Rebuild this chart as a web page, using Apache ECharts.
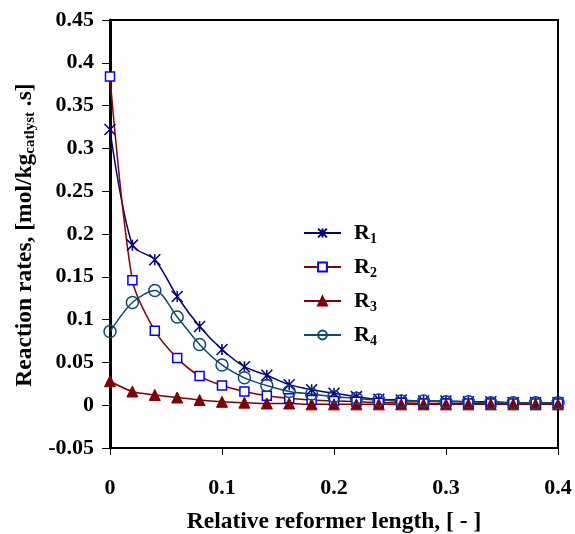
<!DOCTYPE html>
<html>
<head>
<meta charset="utf-8">
<script src="https://cdn.jsdelivr.net/npm/echarts@6/dist/echarts.min.js"></script>
<style>html,body{margin:0;padding:0;background:#fff}#c{width:575px;height:534px}</style>
</head>
<body>
<div id="c"></div>
<script>
var xValues = [0, 0.02, 0.04, 0.06, 0.08, 0.10, 0.12, 0.14, 0.16, 0.18, 0.20, 0.22, 0.24, 0.26, 0.28, 0.30, 0.32, 0.34, 0.36, 0.38, 0.40];
var r1 = [0.322, 0.187, 0.170, 0.127, 0.092, 0.065, 0.045, 0.035, 0.024, 0.018, 0.014, 0.010, 0.007, 0.006, 0.005, 0.005, 0.004, 0.004, 0.003, 0.003, 0.003];
var r2 = [0.384, 0.146, 0.087, 0.055, 0.034, 0.023, 0.016, 0.011, 0.008, 0.006, 0.005, 0.004, 0.003, 0.003, 0.002, 0.002, 0.002, 0.002, 0.002, 0.002, 0.002];
var r3 = [0.028, 0.016, 0.012, 0.009, 0.006, 0.004, 0.003, 0.002, 0.002, 0.001, 0.001, 0.001, 0.001, 0.001, 0.001, 0.001, 0.001, 0.001, 0.001, 0.001, 0.001];
var r4 = [0.086, 0.120, 0.134, 0.103, 0.071, 0.047, 0.032, 0.023, 0.016, 0.013, 0.010, 0.008, 0.006, 0.005, 0.005, 0.004, 0.004, 0.003, 0.003, 0.003, 0.003];
var seriesNames = ['R1', 'R2', 'R3', 'R4'];
var xTitle = 'Relative reformer length, [ - ]';
var yTitleMain = 'Reaction rates, [mol/kg';
var yTitleSub = 'catlyst';
var yTitleEnd = ' .s]';

function pairs(ys) { return xValues.map(function (x, i) { return [x, ys[i]]; }); }

var FONT = '"Liberation Serif", "Times New Roman", serif';
var chart = echarts.init(document.getElementById('c'), null, { renderer: 'canvas' });
var starPath = 'path://M0,0L10,10M10,0L0,10M5,0L5,10';

chart.setOption({
  animation: false,
  backgroundColor: '#fff',
  grid: { left: 110, right: 17, top: 20, bottom: 86, outerBoundsMode: 'none', containLabel: false, show: true, borderColor: '#000', borderWidth: 2, backgroundColor: 'transparent' },
  legend: {
    orient: 'vertical', left: 298, top: 217, itemWidth: 37, itemHeight: 11, itemGap: 10,
    data: seriesNames,
    formatter: function (n) { return '{b|' + n.charAt(0) + '}{s|' + n.slice(1) + '}'; },
    textStyle: {
      padding: [0, 0, 0, 8],
      rich: {
        b: { fontFamily: FONT, fontWeight: 'bold', fontSize: 22, color: '#000', lineHeight: 22, verticalAlign: 'top' },
        s: { fontFamily: FONT, fontWeight: 'bold', fontSize: 14, color: '#000', lineHeight: 14, padding: [10, 0, 0, 0], verticalAlign: 'top' }
      }
    }
  },
  xAxis: [{
    type: 'value', min: 0, max: 0.4, interval: 0.1,
    name: xTitle, nameLocation: 'middle', nameGap: 62,
    nameTextStyle: { fontFamily: FONT, fontWeight: 'bold', fontSize: 23.5, color: '#000' },
    axisLine: { show: true, onZero: false, lineStyle: { color: '#000', width: 2 } },
    axisTick: { show: true, length: 7, lineStyle: { color: '#000', width: 1 } },
    axisLabel: { margin: 29, fontFamily: FONT, fontWeight: 'bold', fontSize: 22, color: '#000' },
    splitLine: { show: false }
  }, {
    type: 'value', min: 0, max: 0.4, interval: 0.1, position: 'bottom',
    axisLine: { show: false },
    axisTick: { show: true, inside: true, length: 7, lineStyle: { color: '#000', width: 1 } },
    axisLabel: { show: false }, splitLine: { show: false }
  }],
  yAxis: {
    type: 'value', min: -0.05, max: 0.45, interval: 0.05,
    axisLine: { show: true, onZero: false, lineStyle: { color: '#000', width: 3 } },
    axisTick: { show: true, length: 8, lineStyle: { color: '#000', width: 1 } },
    axisLabel: { margin: 16, fontFamily: FONT, fontWeight: 'bold', fontSize: 22, color: '#000' },
    splitLine: { show: false }
  },
  graphic: [{
    type: 'text', x: 24, y: 235, rotation: Math.PI / 2,
    style: {
      text: '{a|' + yTitleMain + '}{s|' + yTitleSub + '}{a|' + yTitleEnd + '}',
      align: 'center', verticalAlign: 'middle',
      rich: {
        a: { fontFamily: FONT, fontWeight: 'bold', fontSize: 23.5, fill: '#000', lineHeight: 23, verticalAlign: 'top' },
        s: { fontFamily: FONT, fontWeight: 'bold', fontSize: 15, fill: '#000', lineHeight: 15, padding: [10, 0, 0, 0], verticalAlign: 'top' }
      }
    }
  }],
  series: [{
    name: 'R1', type: 'line', smooth: 0.3, data: pairs(r1),
    symbol: starPath, symbolSize: 11,
    lineStyle: { color: '#000080', width: 1.5 },
    itemStyle: { color: '#000080', borderColor: '#000080', borderWidth: 1.5 }
  }, {
    name: 'R2', type: 'line', smooth: 0.3, data: pairs(r2),
    symbol: 'rect', symbolSize: 9,
    lineStyle: { color: '#8B0000', width: 1.5 },
    itemStyle: { color: '#fff', borderColor: '#0000FF', borderWidth: 1.5 }
  }, {
    name: 'R3', type: 'line', smooth: 0.3, data: pairs(r3),
    symbol: 'triangle', symbolSize: 11,
    lineStyle: { color: '#800000', width: 1.5 },
    itemStyle: { color: '#800000', borderColor: '#800000', borderWidth: 1 }
  }, {
    name: 'R4', type: 'line', smooth: 0.3, data: pairs(r4),
    symbol: 'circle', symbolSize: 12,
    lineStyle: { color: '#0B4A78', width: 1.5 },
    itemStyle: { color: 'rgba(255,255,255,0)', borderColor: '#0B4A78', borderWidth: 1.5 }
  }]
});
</script>
</body>
</html>
